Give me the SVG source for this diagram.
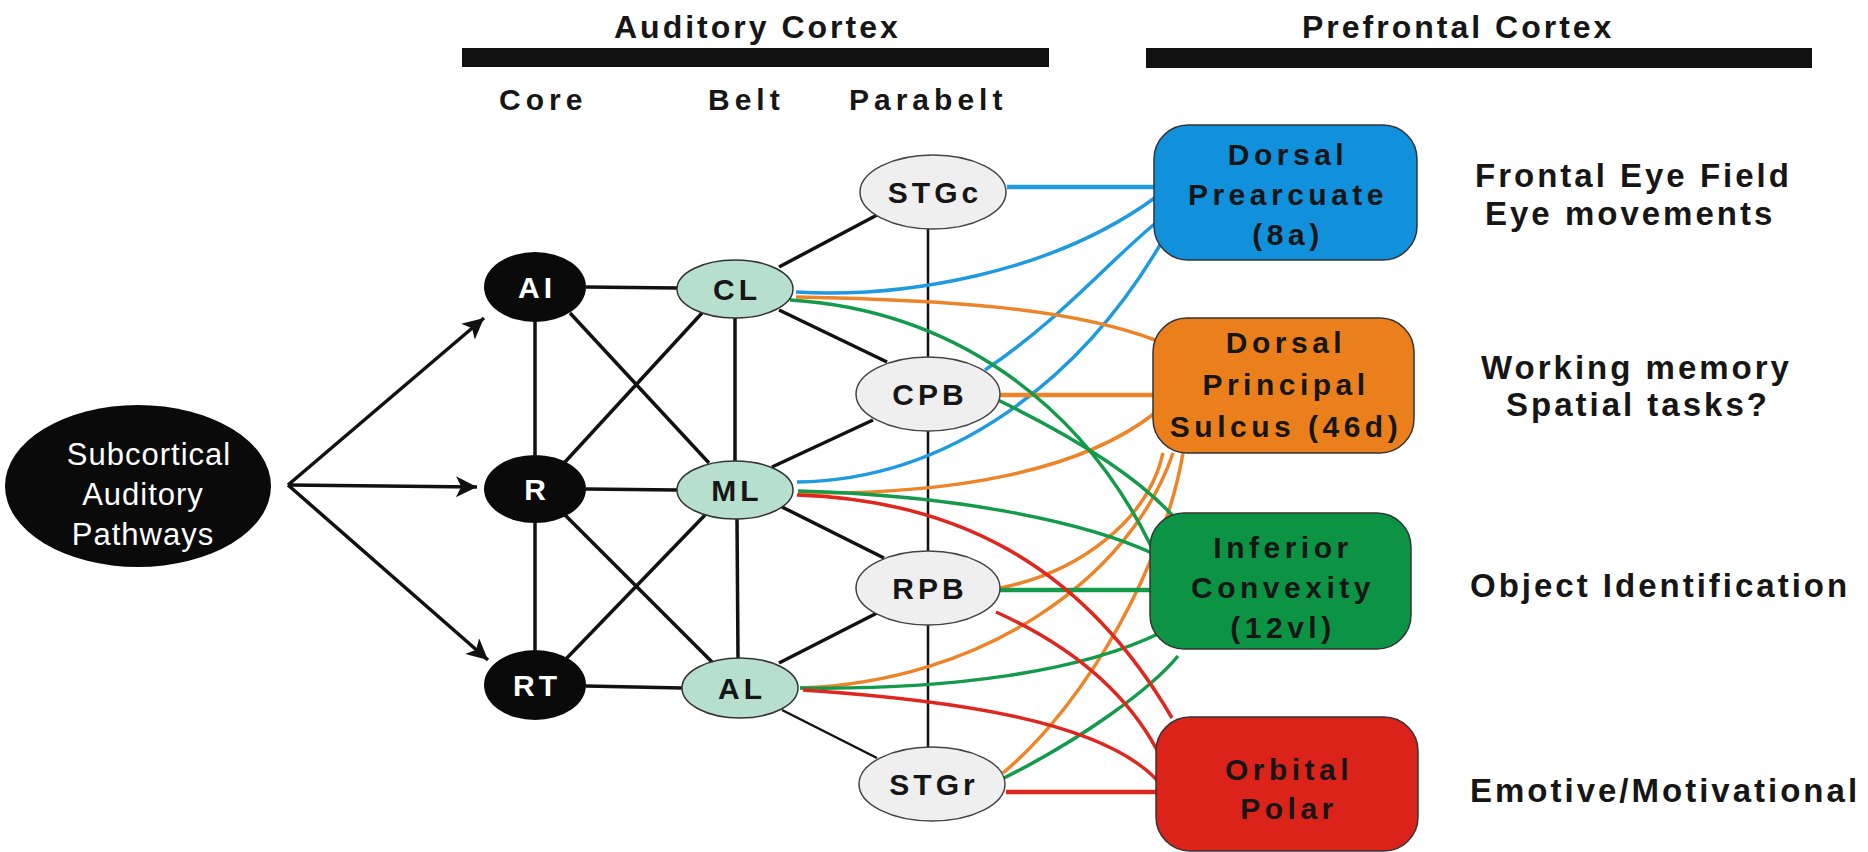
<svg xmlns="http://www.w3.org/2000/svg" width="1868" height="852" viewBox="0 0 1868 852">
<defs>
<marker id="arr" viewBox="0 0 10 10" refX="10" refY="5" markerWidth="7.5" markerHeight="6" markerUnits="strokeWidth" orient="auto">
<path d="M0,0 L10,5 L0,10 L2.5,5 Z" fill="#111"/>
</marker>
<style>
text{font-family:"Liberation Sans",Arial,sans-serif;font-weight:bold;fill:#161616}
.hdr{font-size:32px;letter-spacing:3px}
.col{font-size:30px;letter-spacing:5px}
.lbl{font-size:33px;letter-spacing:3px}
.box{font-size:30px;letter-spacing:4.5px;text-anchor:middle}
.nd{font-size:30px;letter-spacing:4px;text-anchor:middle}
.sub{font-weight:normal;font-size:31px;fill:#fff;letter-spacing:1px;text-anchor:middle}
.core{fill:#0a0a0a}
.belt{fill:#b6dfcd;stroke:#333;stroke-width:1.5}
.para{fill:#efefef;stroke:#444;stroke-width:1.5}
.k{stroke:#111;stroke-width:3.5;fill:none}
.kt{stroke:#111;stroke-width:2.5;fill:none}
.bl{stroke:#1e9be0;stroke-width:3.5;fill:none}
.or{stroke:#ee8428;stroke-width:3.5;fill:none}
.gr{stroke:#139a4a;stroke-width:3.5;fill:none}
.rd{stroke:#e0271f;stroke-width:3.5;fill:none}
.st{stroke-width:4.5}
.pfc{stroke:#333;stroke-width:1.5}
</style>
</defs>
<rect width="1868" height="852" fill="#fff"/>

<g id="headers">
<text class="hdr" x="614" y="38">Auditory Cortex</text>
<rect x="462" y="48" width="587" height="19" fill="#111"/>
<text class="hdr" x="1302" y="38">Prefrontal Cortex</text>
<rect x="1146" y="48" width="666" height="20" fill="#111"/>
<text class="col" x="499" y="110">Core</text>
<text class="col" x="708" y="110">Belt</text>
<text class="col" x="849" y="110">Parabelt</text>
</g>

<g id="connectors">
<!-- arrows -->
<line class="k" x1="288" y1="485" x2="484" y2="318" marker-end="url(#arr)"/>
<line class="k" x1="288" y1="485" x2="477" y2="487" marker-end="url(#arr)"/>
<line class="k" x1="288" y1="485" x2="488" y2="660" marker-end="url(#arr)"/>
<!-- core/belt -->
<line class="k" x1="586" y1="287" x2="677" y2="288"/>
<line class="k" x1="586" y1="489" x2="677" y2="490"/>
<line class="k" x1="586" y1="686" x2="682" y2="688"/>
<line class="k" x1="535" y1="322" x2="535" y2="455"/>
<line class="k" x1="535" y1="523" x2="535" y2="650"/>
<line class="k" x1="735" y1="318" x2="735" y2="462"/>
<line class="k" x1="737" y1="519" x2="738" y2="658"/>
<line class="k" x1="570" y1="313" x2="709" y2="463"/>
<line class="k" x1="702" y1="313" x2="565" y2="462"/>
<line class="k" x1="565" y1="515" x2="712" y2="662"/>
<line class="k" x1="705" y1="515" x2="565" y2="660"/>
<!-- belt/parabelt -->
<line class="k" x1="779" y1="267" x2="877" y2="215"/>
<line class="k" x1="779" y1="310" x2="887" y2="362"/>
<line class="k" x1="772" y1="467" x2="873" y2="420"/>
<line class="k" x1="782" y1="507" x2="884" y2="558"/>
<line class="k" x1="779" y1="663" x2="877" y2="613"/>
<line class="kt" x1="782" y1="710" x2="877" y2="758"/>
<line class="kt" x1="928" y1="225" x2="928" y2="750"/>
<!-- blue -->
<path class="bl st" d="M1007,187 L1156,187"/>
<path class="bl" d="M796,292 C900,298 1050,275 1156,197"/>
<path class="bl" d="M985,370 C1060,320 1110,260 1157,222"/>
<path class="bl" d="M797,482 C950,480 1080,380 1160,245"/>
<!-- orange -->
<path class="or" d="M796,297 C950,300 1070,308 1155,340"/>
<path class="or st" d="M1000,395 L1155,395"/>
<path class="or" d="M798,493 C950,495 1080,472 1155,413"/>
<path class="or" d="M1000,588 C1080,572 1148,520 1163,453"/>
<path class="or" d="M800,688 C980,682 1130,580 1173,453"/>
<path class="or" d="M1003,773 C1090,700 1165,560 1183,453"/>
<!-- green -->
<path class="gr" d="M790,300 C950,310 1080,400 1152,548"/>
<path class="gr" d="M998,400 C1080,440 1140,480 1172,515"/>
<path class="gr" d="M798,491 C950,495 1080,520 1152,553"/>
<path class="gr st" d="M1000,590 L1152,590"/>
<path class="gr" d="M800,688 C950,690 1080,672 1160,633"/>
<path class="gr" d="M1004,778 C1080,740 1150,690 1178,656"/>
<!-- red -->
<path class="rd" d="M797,495 C950,500 1080,560 1172,718"/>
<path class="rd" d="M996,612 C1080,650 1130,700 1157,750"/>
<path class="rd" d="M803,690 C950,700 1100,720 1157,780"/>
<path class="rd st" d="M1006,792 L1157,792"/>
</g>

<g id="subcortical">
<ellipse cx="138" cy="486" rx="133" ry="81" class="core"/>
<text class="sub" x="149" y="465">Subcortical</text>
<text class="sub" x="143" y="505">Auditory</text>
<text class="sub" x="143" y="545">Pathways</text>
</g>

<g id="AI"><ellipse cx="535" cy="287" rx="51" ry="35" class="core"/><text class="nd" x="537" y="298" style="fill:#fff">AI</text></g>
<g id="R"><ellipse cx="535" cy="489" rx="51" ry="34" class="core"/><text class="nd" x="537" y="500" style="fill:#fff">R</text></g>
<g id="RT"><ellipse cx="535" cy="685" rx="51" ry="35" class="core"/><text class="nd" x="537" y="696" style="fill:#fff">RT</text></g>

<g id="CL"><ellipse cx="735" cy="289" rx="58" ry="29" class="belt"/><text class="nd" x="737" y="300">CL</text></g>
<g id="ML"><ellipse cx="735" cy="490" rx="58" ry="29" class="belt"/><text class="nd" x="737" y="501">ML</text></g>
<g id="AL"><ellipse cx="740" cy="688" rx="58" ry="30" class="belt"/><text class="nd" x="742" y="699">AL</text></g>

<g id="STGc"><ellipse cx="933" cy="192" rx="73" ry="37" class="para"/><text class="nd" x="935" y="203">STGc</text></g>
<g id="CPB"><ellipse cx="928" cy="394" rx="72" ry="37" class="para"/><text class="nd" x="930" y="405">CPB</text></g>
<g id="RPB"><ellipse cx="928" cy="588" rx="72" ry="37" class="para"/><text class="nd" x="930" y="599">RPB</text></g>
<g id="STGr"><ellipse cx="932" cy="784" rx="73" ry="37" class="para"/><text class="nd" x="934" y="795">STGr</text></g>

<g id="dorsal-prearcuate">
<rect x="1154" y="125" width="263" height="135" rx="34" fill="#1190dc" class="pfc"/>
<text class="box" x="1288" y="165">Dorsal</text>
<text class="box" x="1288" y="205">Prearcuate</text>
<text class="box" x="1288" y="245">(8a)</text>
</g>
<g id="dorsal-principal">
<rect x="1153" y="318" width="261" height="135" rx="34" fill="#ea7f1c" class="pfc"/>
<text class="box" x="1286" y="353">Dorsal</text>
<text class="box" x="1286" y="395">Principal</text>
<text class="box" x="1286" y="437">Sulcus (46d)</text>
</g>
<g id="inferior-convexity">
<rect x="1150" y="513" width="261" height="136" rx="34" fill="#0c9444" class="pfc"/>
<text class="box" x="1283" y="558">Inferior</text>
<text class="box" x="1283" y="598">Convexity</text>
<text class="box" x="1283" y="638">(12vl)</text>
</g>
<g id="orbital-polar">
<rect x="1156" y="717" width="262" height="134" rx="34" fill="#dc231a" class="pfc"/>
<text class="box" x="1289" y="780">Orbital</text>
<text class="box" x="1289" y="819">Polar</text>
</g>

<g id="functions">
<text class="lbl" x="1475" y="187">Frontal Eye Field</text>
<text class="lbl" x="1485" y="225">Eye movements</text>
<text class="lbl" x="1481" y="379">Working memory</text>
<text class="lbl" x="1506" y="416">Spatial tasks?</text>
<text class="lbl" x="1470" y="597">Object Identification</text>
<text class="lbl" x="1470" y="802">Emotive/Motivational</text>
</g>
</svg>
